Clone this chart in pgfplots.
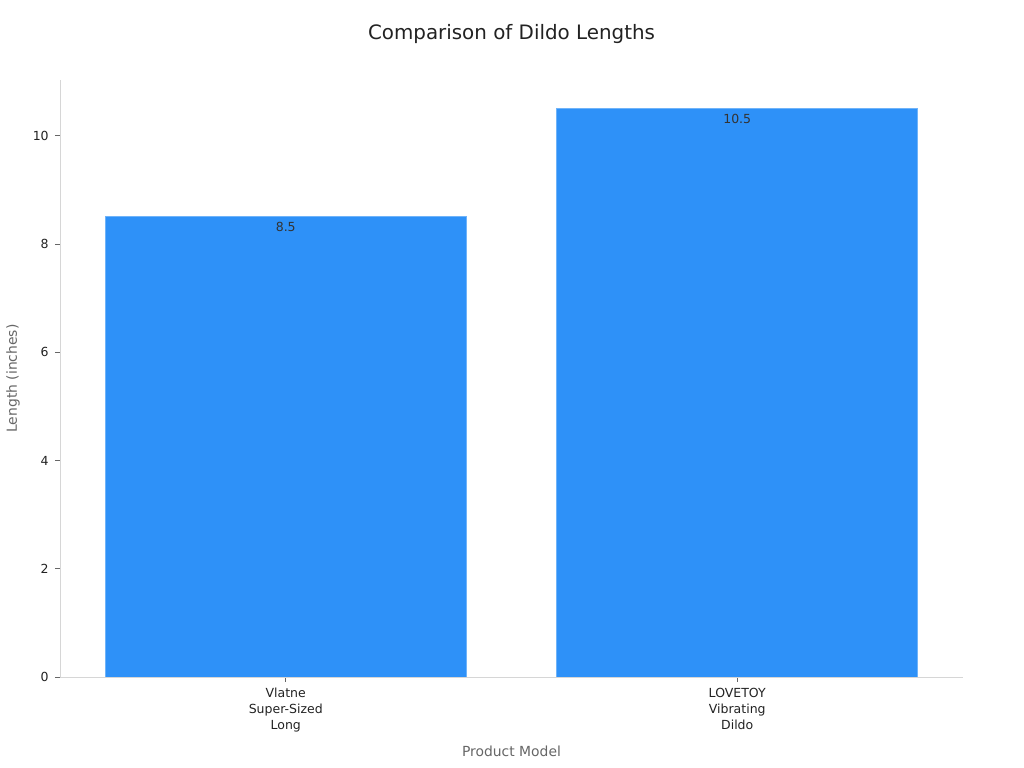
\documentclass[border=0pt]{standalone}
\usepackage{fontspec}
\setmainfont{DejaVu Sans}
\usepackage{pgfplots}
\pgfplotsset{compat=1.18}

\definecolor{barblue}{HTML}{2E91F8}
\definecolor{baredge}{HTML}{6FB3F9}
\definecolor{spine}{HTML}{D6D6D6}
\definecolor{labelgray}{HTML}{666666}
\definecolor{tickgray}{HTML}{222222}
\definecolor{valgray}{HTML}{333333}

\begin{document}
\begin{tikzpicture}
  % page = 1024x768 px at 0.72pt per px
  \path[use as bounding box] (-43.2pt,-65.52pt) rectangle (694.08pt,487.44pt);
  \begin{axis}[
      at={(0,0)}, anchor=south west,
      scale only axis,
      width=650.16pt, height=429.84pt,
      xmin=-0.5, xmax=1.5,
      ymin=0, ymax=11.03,
      xtick={0,1},
      xticklabels={{Vlatne\\Super-Sized\\Long},{LOVETOY\\Vibrating\\Dildo}},
      ytick={0,2,4,6,8,10},
      axis x line*=bottom,
      axis y line*=left,
      axis line style={spine, line width=0.7pt},
      tick align=outside,
      major tick length=3.6pt,
      tick style={labelgray, line width=0.6pt},
      x tick label style={font=\fontsize{9}{11.5}\selectfont, align=center, text=tickgray, yshift=-1pt},
      y tick label style={font=\fontsize{9}{11}\selectfont, text=tickgray, xshift=-1pt},
      /pgf/number format/assume math mode=true,
      title={Comparison of Dildo Lengths},
      title style={at={(axis description cs:0.5,1)}, anchor=center, yshift=26.8pt,
                   font=\fontsize{14.3}{16}\selectfont, text=tickgray},
      ylabel={Length (inches)},
      ylabel style={at={(axis description cs:-0.052,0.5)}, anchor=center,
                    font=\fontsize{10}{12}\selectfont, text=labelgray},
      xlabel={Product Model},
      xlabel style={at={(axis description cs:0.5,-0.124)}, anchor=center,
                    font=\fontsize{10}{12}\selectfont, text=labelgray},
      ybar, bar width=0.8, bar shift=0pt,
      nodes near coords,
      nodes near coords style={anchor=center, yshift=-7.2pt,
                               font=\fontsize{9}{11}\selectfont, text=valgray,
                               /pgf/number format/fixed, /pgf/number format/precision=1,
                               /pgf/number format/fixed zerofill},
    ]
    \addplot[fill=barblue, draw=baredge, line width=0.7pt]
      coordinates {(0,8.5) (1,10.5)};
  \end{axis}
\end{tikzpicture}
\end{document}
